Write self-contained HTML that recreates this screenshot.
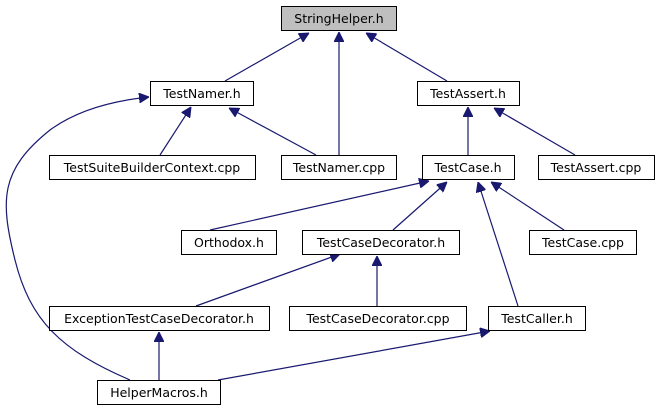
<!DOCTYPE html>
<html><head><style>html,body{margin:0;padding:0;background:#fff}</style></head><body>
<svg width="660" height="411" viewBox="0 0 660 411" xmlns="http://www.w3.org/2000/svg">
<defs><marker id="a" viewBox="0 0 10 10" refX="10" refY="5" markerWidth="10" markerHeight="10" markerUnits="userSpaceOnUse" orient="auto"><path d="M0,0 L10,5 L0,10 z" fill="#191970" stroke="#191970"/></marker></defs>
<g stroke="#191970" stroke-width="1.2" fill="none" marker-end="url(#a)">
<path d="M225,81 L309,33"/>
<path d="M339,155 L339,32"/>
<path d="M447,81 L366,33"/>
<path d="M160,155 L191,107"/>
<path d="M316,155 L229,108"/>
<path d="M130,380 C60,350 30,320 15,260 C0,200 0,170 50,130 C80,108 120,100 149,97"/>
<path d="M468,155 L468,107"/>
<path d="M575,155 L494,108"/>
<path d="M210,230 L429,181"/>
<path d="M393,230 L447,182"/>
<path d="M518,306 L478,182"/>
<path d="M564,230 L491,182"/>
<path d="M196,306 L340,254"/>
<path d="M377,306 L377,256"/>
<path d="M159,380 L159,332"/>
<path d="M218,380 L490,331"/>
</g>
<g stroke="#000" stroke-width="1" fill="#fff">
<rect x="281.5" y="6.5" width="115" height="24" fill="#bfbfbf"/>
<rect x="150.5" y="81.5" width="103" height="24"/>
<rect x="417.5" y="81.5" width="102" height="24"/>
<rect x="49.5" y="155.5" width="206" height="24"/>
<rect x="281.5" y="155.5" width="115" height="24"/>
<rect x="422.5" y="155.5" width="92" height="24"/>
<rect x="538.5" y="155.5" width="116" height="24"/>
<rect x="181.5" y="230.5" width="95" height="24"/>
<rect x="302.5" y="230.5" width="157" height="24"/>
<rect x="529.5" y="230.5" width="107" height="24"/>
<rect x="49.5" y="306.5" width="220" height="24"/>
<rect x="289.5" y="306.5" width="177" height="24"/>
<rect x="488.5" y="306.5" width="97" height="24"/>
<rect x="97.5" y="380.5" width="123" height="24"/>
</g>
<g font-family="DejaVu Sans, sans-serif" font-size="12.5" text-anchor="middle" fill="#000">
<text x="339" y="23">StringHelper.h</text>
<text x="202" y="98">TestNamer.h</text>
<text x="468" y="98">TestAssert.h</text>
<text x="152" y="172">TestSuiteBuilderContext.cpp</text>
<text x="339" y="172">TestNamer.cpp</text>
<text x="468" y="172">TestCase.h</text>
<text x="596" y="172">TestAssert.cpp</text>
<text x="229" y="247">Orthodox.h</text>
<text x="381" y="247">TestCaseDecorator.h</text>
<text x="583" y="247">TestCase.cpp</text>
<text x="159" y="323">ExceptionTestCaseDecorator.h</text>
<text x="378" y="323">TestCaseDecorator.cpp</text>
<text x="537" y="323">TestCaller.h</text>
<text x="159" y="397">HelperMacros.h</text>
</g>
</svg>
</body></html>
